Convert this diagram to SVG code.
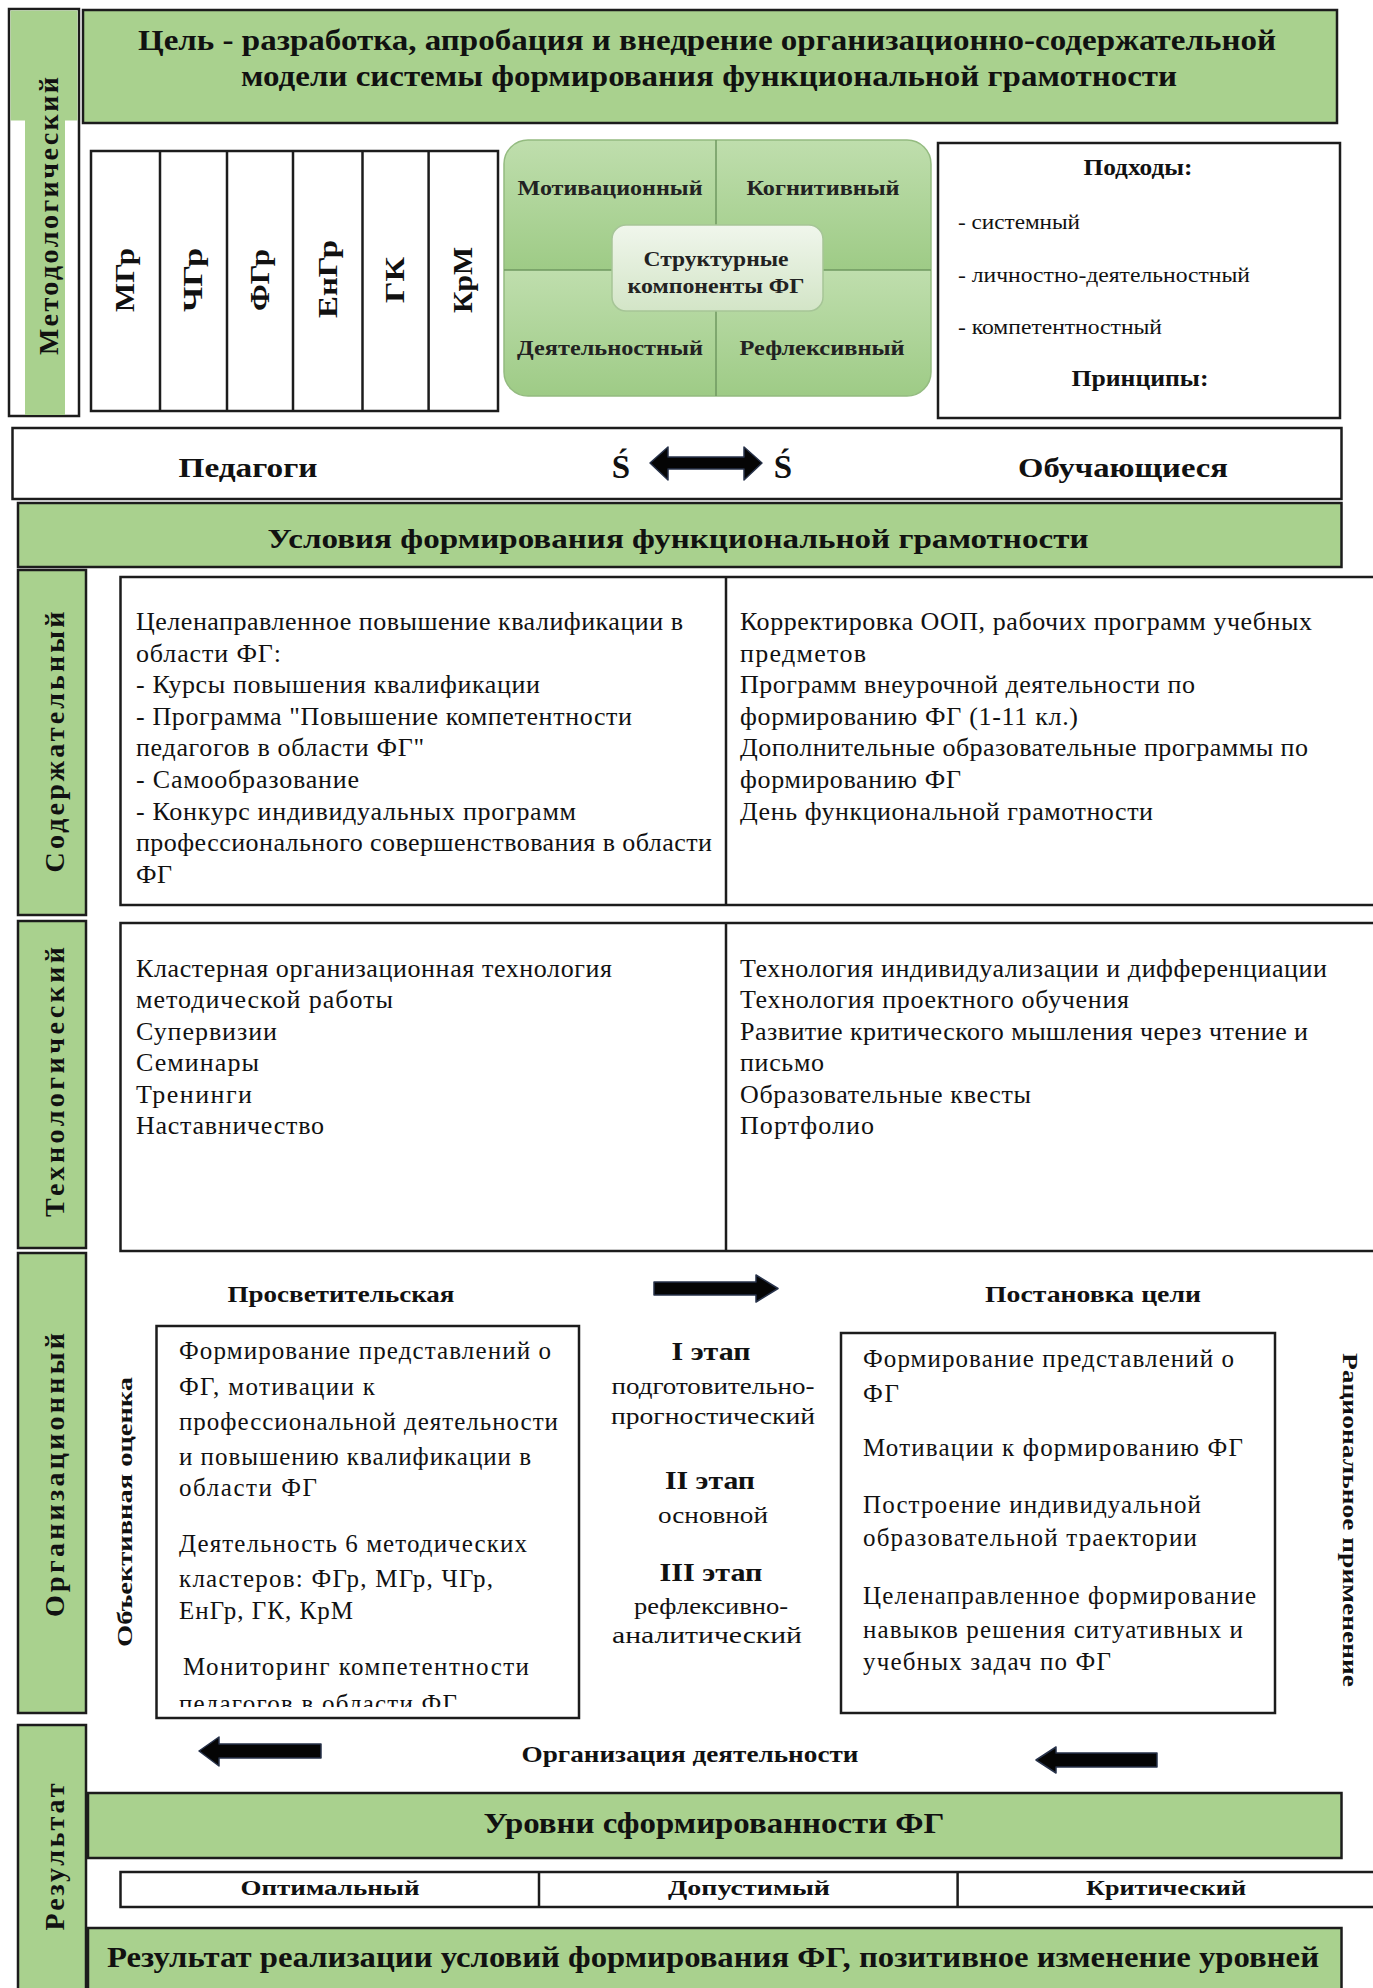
<svg xmlns="http://www.w3.org/2000/svg" width="1373" height="1988" viewBox="0 0 1373 1988">
<defs>
<style>
text{font-family:"Liberation Serif","Times New Roman",serif;fill:#111;}
.b{font-weight:bold;}
.box{fill:#fff;stroke:#1c1c1c;stroke-width:2.5;}
.gbox{fill:#a9d18e;stroke:#1c1c1c;stroke-width:2.5;}
.ln{stroke:#1c1c1c;stroke-width:2.5;fill:none;}
.body{font-size:26px;}
.mid{font-size:24px;}
.lab{font-size:28px;font-weight:bold;}
.sub{font-size:28px;font-weight:bold;}
.q{font-size:20px;font-weight:bold;fill:#222;}
.arr{fill:#050505;stroke:#27324a;stroke-width:1.5;stroke-linejoin:round;}
</style>
<linearGradient id="gq" x1="0" y1="0" x2="0" y2="1">
<stop offset="0" stop-color="#bfdead"/>
<stop offset="1" stop-color="#9ecb86"/>
</linearGradient>
<linearGradient id="gc" x1="0" y1="0" x2="0" y2="1">
<stop offset="0" stop-color="#f0f6ec"/>
<stop offset="1" stop-color="#d3e5c7"/>
</linearGradient>
<clipPath id="sc"><rect x="504" y="140" width="427" height="256" rx="24"/></clipPath>
<clipPath id="lb"><rect x="157" y="1327" width="421" height="380"/></clipPath>
</defs>

<!-- Left column labels -->
<g id="n-metod">
<rect x="9" y="9" width="70" height="407" class="box"/>
<rect x="10.5" y="10.5" width="67" height="110" fill="#a9d18e"/>
<rect x="25" y="120" width="40" height="295" fill="#a9d18e"/>
<text class="lab" transform="translate(58,216) rotate(-90)" text-anchor="middle" textLength="278" lengthAdjust="spacing">Методологический</text>
</g>
<g id="n-soder">
<rect x="18" y="570" width="68" height="345" class="gbox"/>
<text class="lab" transform="translate(64,742) rotate(-90)" text-anchor="middle" textLength="261" lengthAdjust="spacing">Содержательный</text>
</g>
<g id="n-tech">
<rect x="18" y="921" width="68" height="327" class="gbox"/>
<text class="lab" transform="translate(64,1082) rotate(-90)" text-anchor="middle" textLength="270" lengthAdjust="spacing">Технологический</text>
</g>
<g id="n-org">
<rect x="18" y="1253" width="68" height="460" class="gbox"/>
<text class="lab" transform="translate(64,1475) rotate(-90)" text-anchor="middle" textLength="284" lengthAdjust="spacing">Организационный</text>
</g>
<g id="n-res">
<rect x="18" y="1725" width="68" height="280" class="gbox"/>
<text class="lab" transform="translate(64,1857) rotate(-90)" text-anchor="middle" textLength="147" lengthAdjust="spacing">Результат</text>
</g>

<!-- Goal -->
<g id="n-goal">
<rect x="83" y="10" width="1254" height="113" class="gbox"/>
<text class="b" x="707" y="50" font-size="29" text-anchor="middle" textLength="1138" lengthAdjust="spacingAndGlyphs">Цель - разработка, апробация и внедрение организационно-содержательной</text>
<text class="b" x="709" y="86" font-size="29" text-anchor="middle" textLength="936" lengthAdjust="spacingAndGlyphs">модели системы формирования функциональной грамотности</text>
</g>

<!-- Subjects -->
<g id="n-subjects">
<rect x="91" y="151" width="407" height="260" class="box"/>
<line x1="160" y1="151" x2="160" y2="411" class="ln"/>
<line x1="227" y1="151" x2="227" y2="411" class="ln"/>
<line x1="293" y1="151" x2="293" y2="411" class="ln"/>
<line x1="362.5" y1="151" x2="362.5" y2="411" class="ln"/>
<line x1="428.6" y1="151" x2="428.6" y2="411" class="ln"/>
<text class="sub" transform="translate(134,280) rotate(-90)" text-anchor="middle" textLength="64" lengthAdjust="spacingAndGlyphs">МГр</text>
<text class="sub" transform="translate(202,280) rotate(-90)" text-anchor="middle" textLength="64" lengthAdjust="spacingAndGlyphs">ЧГр</text>
<text class="sub" transform="translate(269,280) rotate(-90)" text-anchor="middle" textLength="62" lengthAdjust="spacingAndGlyphs">ФГр</text>
<text class="sub" transform="translate(337,279) rotate(-90)" text-anchor="middle" textLength="78" lengthAdjust="spacingAndGlyphs">ЕнГр</text>
<text class="sub" transform="translate(404,280) rotate(-90)" text-anchor="middle" textLength="46" lengthAdjust="spacingAndGlyphs">ГК</text>
<text class="sub" transform="translate(472,280) rotate(-90)" text-anchor="middle" textLength="66" lengthAdjust="spacingAndGlyphs">КрМ</text>
</g>

<!-- Structural components -->
<g id="n-struct">
<g clip-path="url(#sc)">
<rect x="504" y="140" width="212" height="130" fill="url(#gq)"/>
<rect x="716" y="140" width="215" height="130" fill="url(#gq)"/>
<rect x="504" y="270" width="212" height="126" fill="url(#gq)"/>
<rect x="716" y="270" width="215" height="126" fill="url(#gq)"/>
</g>
<rect x="504" y="140" width="427" height="256" rx="24" fill="none" stroke="#94bb80" stroke-width="1.5"/>
<line x1="716" y1="140" x2="716" y2="396" stroke="#6f9860" stroke-width="1.5"/>
<line x1="504" y1="270" x2="931" y2="270" stroke="#6f9860" stroke-width="1.5"/>
<text class="q" x="610" y="195" text-anchor="middle" textLength="185" lengthAdjust="spacingAndGlyphs">Мотивационный</text>
<text class="q" x="823" y="195" text-anchor="middle" textLength="153" lengthAdjust="spacingAndGlyphs">Когнитивный</text>
<text class="q" x="610" y="355" text-anchor="middle" textLength="186" lengthAdjust="spacingAndGlyphs">Деятельностный</text>
<text class="q" x="822" y="355" text-anchor="middle" textLength="165" lengthAdjust="spacingAndGlyphs">Рефлексивный</text>
<rect x="612" y="225" width="211" height="86" rx="14" fill="url(#gc)" stroke="#a6c597" stroke-width="1.5"/>
<text class="q" x="716" y="266" text-anchor="middle" textLength="145" lengthAdjust="spacingAndGlyphs">Структурные</text>
<text class="q" x="716" y="293" text-anchor="middle" textLength="177" lengthAdjust="spacingAndGlyphs">компоненты ФГ</text>
</g>

<!-- Approaches -->
<g id="n-approach">
<rect x="938" y="143" width="402" height="275" class="box"/>
<text class="b" x="1138" y="175" font-size="23" text-anchor="middle" textLength="109" lengthAdjust="spacingAndGlyphs">Подходы:</text>
<text x="958" y="229" font-size="20" textLength="122" lengthAdjust="spacingAndGlyphs">- системный</text>
<text x="958" y="282" font-size="20" textLength="292" lengthAdjust="spacingAndGlyphs">- личностно-деятельностный</text>
<text x="958" y="334" font-size="20" textLength="204" lengthAdjust="spacingAndGlyphs">- компетентностный</text>
<text class="b" x="1140" y="386" font-size="23" text-anchor="middle" textLength="137" lengthAdjust="spacingAndGlyphs">Принципы:</text>
</g>

<!-- Pedagogues / learners -->
<g id="n-actors">
<rect x="12.5" y="428" width="1329" height="71" class="box"/>
<text class="b" x="248" y="477" font-size="28" text-anchor="middle" textLength="139" lengthAdjust="spacingAndGlyphs">Педагоги</text>
<text class="b" x="621" y="478" font-size="33" text-anchor="middle">Ś</text>
<text class="b" x="783" y="478" font-size="33" text-anchor="middle">Ś</text>
<text class="b" x="1123" y="477" font-size="28" text-anchor="middle" textLength="210" lengthAdjust="spacingAndGlyphs">Обучающиеся</text>
</g>

<!-- Conditions header -->
<g id="n-cond">
<rect x="18" y="503" width="1323.5" height="64" class="gbox"/>
<text class="b" x="678" y="548" font-size="28" text-anchor="middle" textLength="821" lengthAdjust="spacingAndGlyphs">Условия формирования функциональной грамотности</text>
</g>

<!-- Content box -->
<g id="n-content">
<rect x="120.5" y="577" width="1280" height="328" class="box"/>
<line x1="726" y1="577" x2="726" y2="905" class="ln"/>
<g class="body">
<text x="136" y="630" textLength="547" lengthAdjust="spacing">Целенаправленное повышение квалификации в</text>
<text x="136" y="662" textLength="145" lengthAdjust="spacing">области ФГ:</text>
<text x="136" y="693" textLength="404" lengthAdjust="spacing">- Курсы повышения квалификации</text>
<text x="136" y="725" textLength="496" lengthAdjust="spacing">- Программа "Повышение компетентности</text>
<text x="136" y="756" textLength="288" lengthAdjust="spacing">педагогов в области ФГ"</text>
<text x="136" y="788" textLength="223" lengthAdjust="spacing">- Самообразование</text>
<text x="136" y="820" textLength="440" lengthAdjust="spacing">- Конкурс индивидуальных программ</text>
<text x="136" y="851" textLength="576" lengthAdjust="spacing">профессионального совершенствования в области</text>
<text x="136" y="883" textLength="36" lengthAdjust="spacing">ФГ</text>
<text x="740" y="630" textLength="572" lengthAdjust="spacing">Корректировка ООП, рабочих программ учебных</text>
<text x="740" y="662" textLength="126" lengthAdjust="spacing">предметов</text>
<text x="740" y="693" textLength="455" lengthAdjust="spacing">Программ внеурочной деятельности по</text>
<text x="740" y="725" textLength="338" lengthAdjust="spacing">формированию ФГ (1-11 кл.)</text>
<text x="740" y="756" textLength="568" lengthAdjust="spacing">Дополнительные образовательные программы по</text>
<text x="740" y="788" textLength="221" lengthAdjust="spacing">формированию ФГ</text>
<text x="740" y="820" textLength="413" lengthAdjust="spacing">День функциональной грамотности</text>
</g>
</g>

<!-- Technology box -->
<g id="n-techbox">
<rect x="120.5" y="923" width="1280" height="328" class="box"/>
<line x1="726" y1="923" x2="726" y2="1251" class="ln"/>
<g class="body">
<text x="136" y="977" textLength="476" lengthAdjust="spacing">Кластерная организационная технология</text>
<text x="136" y="1008" textLength="257" lengthAdjust="spacing">методической работы</text>
<text x="136" y="1040" textLength="141" lengthAdjust="spacing">Супервизии</text>
<text x="136" y="1071" textLength="123" lengthAdjust="spacing">Семинары</text>
<text x="136" y="1103" textLength="116" lengthAdjust="spacing">Тренинги</text>
<text x="136" y="1134" textLength="188" lengthAdjust="spacing">Наставничество</text>
<text x="740" y="977" textLength="587" lengthAdjust="spacing">Технология индивидуализации и дифференциации</text>
<text x="740" y="1008" textLength="389" lengthAdjust="spacing">Технология проектного обучения</text>
<text x="740" y="1040" textLength="568" lengthAdjust="spacing">Развитие критического мышления через чтение и</text>
<text x="740" y="1071" textLength="84" lengthAdjust="spacing">письмо</text>
<text x="740" y="1103" textLength="291" lengthAdjust="spacing">Образовательные квесты</text>
<text x="740" y="1134" textLength="134" lengthAdjust="spacing">Портфолио</text>
</g>
</g>

<!-- Organizational section -->
<g id="n-prosv">
<text class="b" x="341" y="1302" font-size="23" text-anchor="middle" textLength="227" lengthAdjust="spacingAndGlyphs">Просветительская</text>
</g>
<g id="n-goalset">
<text class="b" x="1093" y="1302" font-size="23" text-anchor="middle" textLength="216" lengthAdjust="spacingAndGlyphs">Постановка цели</text>
</g>
<g id="n-objective">
<text class="b" transform="translate(132,1512) rotate(-90)" font-size="21" text-anchor="middle" textLength="270" lengthAdjust="spacingAndGlyphs">Объективная оценка</text>
</g>
<g id="n-rational">
<text class="b" transform="translate(1343,1520) rotate(90)" font-size="21" text-anchor="middle" textLength="334" lengthAdjust="spacingAndGlyphs">Рациональное применение</text>
</g>

<g id="n-leftbox">
<rect x="156.5" y="1326" width="422.5" height="392" class="box"/>
<g class="body" clip-path="url(#lb)" style="font-size:25px">
<text x="179" y="1359" textLength="372" lengthAdjust="spacing">Формирование представлений о</text>
<text x="179" y="1395" textLength="196" lengthAdjust="spacing">ФГ, мотивации к</text>
<text x="179" y="1430" textLength="379" lengthAdjust="spacing">профессиональной деятельности</text>
<text x="179" y="1465" textLength="352" lengthAdjust="spacing">и повышению квалификации в</text>
<text x="179" y="1496" textLength="138" lengthAdjust="spacing">области ФГ</text>
<text x="179" y="1552" textLength="348" lengthAdjust="spacing">Деятельность 6 методических</text>
<text x="179" y="1587" textLength="314" lengthAdjust="spacing">кластеров: ФГр, МГр, ЧГр,</text>
<text x="179" y="1619" textLength="174" lengthAdjust="spacing">ЕнГр, ГК, КрМ</text>
<text x="183" y="1675" textLength="346" lengthAdjust="spacing">Мониторинг компетентности</text>
<text x="179" y="1712" textLength="278" lengthAdjust="spacing">педагогов в области ФГ</text>
</g>
</g>

<g id="n-stages">
<text class="b" x="711" y="1360" font-size="26" text-anchor="middle" textLength="79" lengthAdjust="spacingAndGlyphs">I этап</text>
<text class="mid" x="713" y="1394" text-anchor="middle" textLength="203" lengthAdjust="spacingAndGlyphs">подготовительно-</text>
<text class="mid" x="713" y="1424" text-anchor="middle" textLength="204" lengthAdjust="spacingAndGlyphs">прогностический</text>
<text class="b" x="710" y="1489" font-size="26" text-anchor="middle" textLength="90" lengthAdjust="spacingAndGlyphs">II этап</text>
<text class="mid" x="713" y="1523" text-anchor="middle" textLength="110" lengthAdjust="spacingAndGlyphs">основной</text>
<text class="b" x="711" y="1581" font-size="26" text-anchor="middle" textLength="103" lengthAdjust="spacingAndGlyphs">III этап</text>
<text class="mid" x="711" y="1614" text-anchor="middle" textLength="154" lengthAdjust="spacingAndGlyphs">рефлексивно-</text>
<text class="mid" x="707" y="1643" text-anchor="middle" textLength="190" lengthAdjust="spacingAndGlyphs">аналитический</text>
</g>

<g id="n-rightbox">
<rect x="841" y="1333" width="434" height="380" class="box"/>
<g class="body" style="font-size:25px">
<text x="863" y="1367" textLength="371" lengthAdjust="spacing">Формирование представлений о</text>
<text x="863" y="1402" textLength="36" lengthAdjust="spacing">ФГ</text>
<text x="863" y="1456" textLength="380" lengthAdjust="spacing">Мотивации к формированию ФГ</text>
<text x="863" y="1513" textLength="338" lengthAdjust="spacing">Построение индивидуальной</text>
<text x="863" y="1546" textLength="334" lengthAdjust="spacing">образовательной траектории</text>
<text x="863" y="1604" textLength="393" lengthAdjust="spacing">Целенаправленное формирование</text>
<text x="863" y="1638" textLength="380" lengthAdjust="spacing">навыков решения ситуативных и</text>
<text x="863" y="1670" textLength="248" lengthAdjust="spacing">учебных задач по ФГ</text>
</g>
</g>

<g id="n-orgact">
<text class="b" x="690" y="1762" font-size="23" text-anchor="middle" textLength="337" lengthAdjust="spacingAndGlyphs">Организация деятельности</text>
</g>

<!-- Levels -->
<g id="n-levels">
<rect x="88" y="1793" width="1253.5" height="65" class="gbox"/>
<text class="b" x="714" y="1833" font-size="30" text-anchor="middle" textLength="461" lengthAdjust="spacingAndGlyphs">Уровни сформированности ФГ</text>
</g>
<g id="n-leveltable">
<rect x="120.5" y="1872" width="1280" height="35" class="box"/>
<line x1="539" y1="1872" x2="539" y2="1907" class="ln"/>
<line x1="957.6" y1="1872" x2="957.6" y2="1907" class="ln"/>
<text class="b" x="330" y="1895" font-size="22" text-anchor="middle" textLength="179" lengthAdjust="spacingAndGlyphs">Оптимальный</text>
<text class="b" x="749" y="1895" font-size="22" text-anchor="middle" textLength="162" lengthAdjust="spacingAndGlyphs">Допустимый</text>
<text class="b" x="1166" y="1895" font-size="22" text-anchor="middle" textLength="160" lengthAdjust="spacingAndGlyphs">Критический</text>
</g>
<g id="n-final">
<rect x="88" y="1928" width="1253.5" height="80" class="gbox"/>
<text class="b" x="713" y="1967" font-size="30" text-anchor="middle" textLength="1212" lengthAdjust="spacingAndGlyphs">Результат реализации условий формирования ФГ, позитивное изменение уровней</text>
</g>

<!-- Connectors (block arrows) -->
<g id="connectors">
<polygon class="arr" points="650,463 668,447 668,457 744,457 744,447 762,463 744,480 744,469 668,469 668,480"/>
<polygon class="arr" points="654,1282 756,1282 756,1275 778,1288.5 756,1302 756,1295 654,1295"/>
<polygon class="arr" points="199,1751 219,1737 219,1744 321,1744 321,1758 219,1758 219,1766"/>
<polygon class="arr" points="1036,1760 1056,1747 1056,1753 1157,1753 1157,1767 1056,1767 1056,1773"/>
</g>
</svg>
